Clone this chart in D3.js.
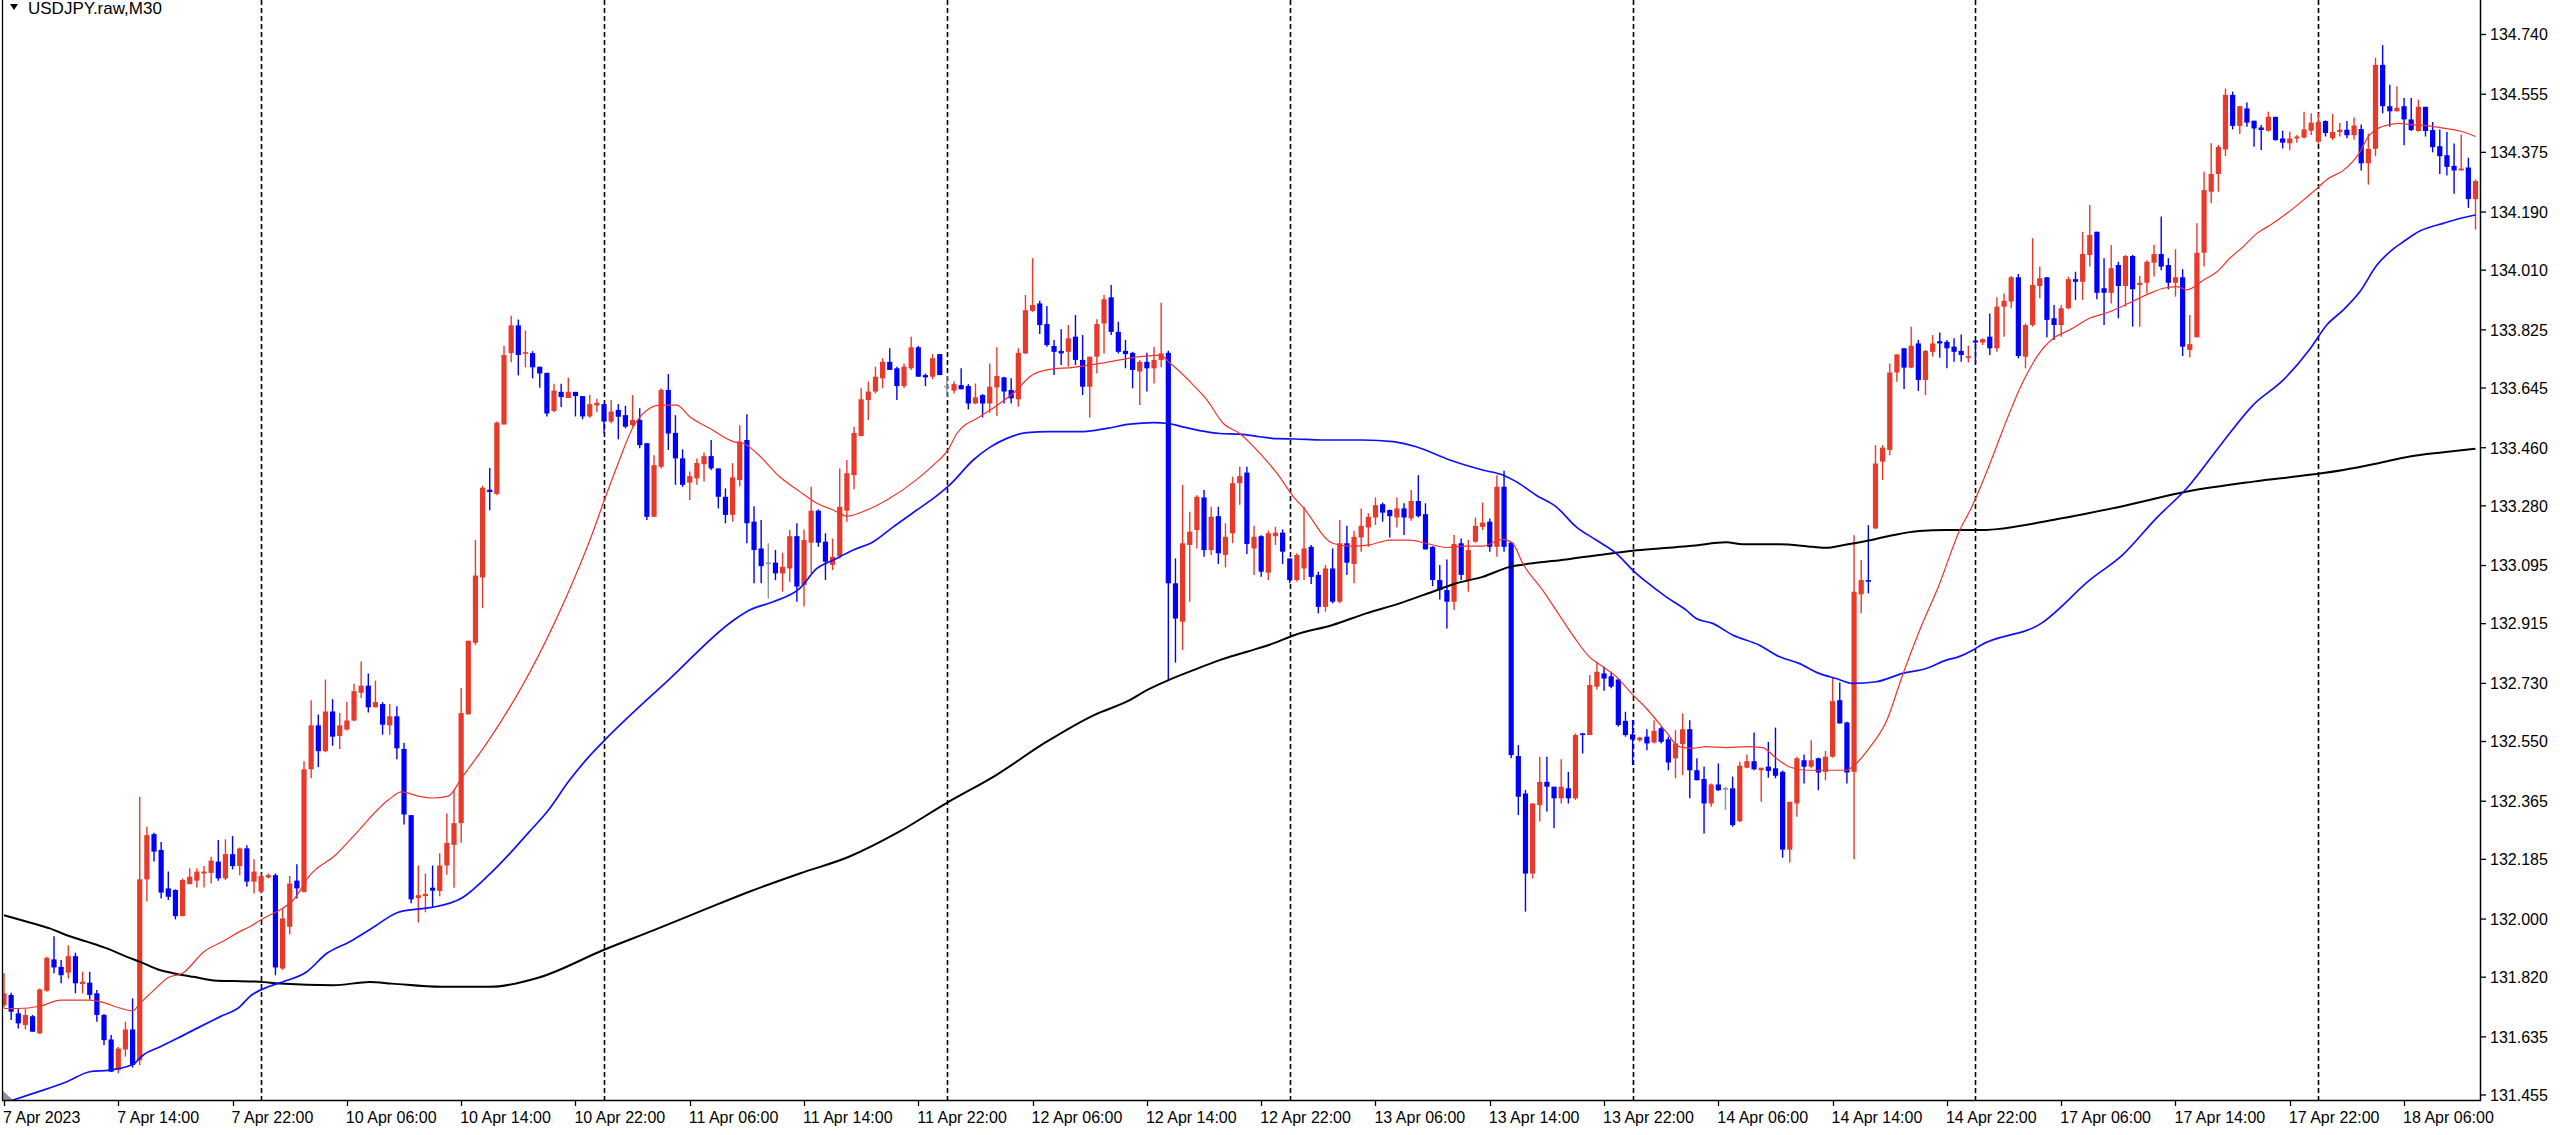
<!DOCTYPE html>
<html><head><meta charset="utf-8">
<script src="https://cdn.jsdelivr.net/npm/d3@7"></script>
<style>
html,body{margin:0;padding:0;background:#fff;overflow:hidden}
svg{display:block}
text{font-family:"Liberation Sans",Arial,sans-serif;font-size:16px;fill:#000}
</style>
</head><body>
<svg id="c" width="2560" height="1135"></svg>
<script>
const chartTitle = "USDJPY.raw,M30";

const openP = [
131.733,131.765,131.708,131.672,131.699,131.646,131.778,131.875,131.852,131.834,
131.885,131.799,131.803,131.770,131.703,131.627,131.532,131.596,131.658,131.563,
132.123,132.263,132.214,132.095,132.090,132.009,132.108,132.119,132.141,132.143,
132.178,132.126,132.201,132.164,132.219,132.116,132.085,132.129,132.136,131.847,
131.976,132.119,132.084,132.464,132.600,132.520,132.643,132.567,132.587,132.615,
132.701,132.723,132.656,132.666,132.600,132.628,132.527,132.322,132.065,132.071,
132.097,132.087,132.166,132.230,132.297,132.634,132.856,133.058,133.330,133.317,
133.532,133.753,133.839,133.751,133.753,133.711,133.692,133.574,133.633,133.614,
133.633,133.620,133.557,133.591,133.595,133.541,133.577,133.561,133.530,133.546,
133.474,133.246,133.401,133.639,133.506,133.427,133.352,133.365,133.409,133.434,
133.396,133.308,133.252,133.360,133.484,133.231,133.148,133.102,133.104,133.071,
133.086,133.186,133.035,133.166,133.265,133.169,133.097,133.124,133.265,133.375,
133.496,133.608,133.634,133.675,133.726,133.706,133.651,133.706,133.771,133.685,
133.680,133.750,133.649,133.637,133.654,133.651,133.597,133.623,133.597,133.647,
133.678,133.639,133.610,133.752,133.884,133.907,133.843,133.775,133.760,133.757,
133.804,133.732,133.649,133.742,133.845,133.926,133.819,133.760,133.754,133.696,
133.726,133.706,133.732,133.754,133.040,132.921,133.159,133.205,133.306,133.143,
133.248,133.128,133.195,133.350,133.383,133.148,133.186,133.073,133.186,133.197,
133.117,133.050,133.086,133.153,133.066,132.967,133.086,132.983,133.164,133.100,
133.182,133.213,133.244,133.285,133.267,133.244,133.272,133.241,133.295,133.254,
133.153,133.050,133.019,132.983,133.164,133.050,133.169,133.215,133.231,133.153,
133.339,133.166,132.505,132.389,132.141,132.353,132.425,132.410,132.374,132.405,
132.374,132.575,132.570,132.720,132.761,132.752,132.742,132.614,132.572,132.554,
132.565,132.547,132.591,132.557,132.498,132.542,132.588,132.461,132.434,132.358,
132.417,132.403,132.405,132.303,132.469,132.489,132.461,132.472,132.467,132.456,
132.215,132.358,132.492,132.472,132.498,132.456,132.503,132.678,132.609,132.456,
133.006,133.050,133.210,133.417,133.453,133.693,133.768,133.708,133.783,133.670,
133.757,133.790,133.788,133.773,133.760,133.739,133.792,133.786,133.804,133.768,
133.897,133.913,133.988,133.742,133.840,133.961,133.988,133.861,133.840,133.892,
133.982,133.974,134.057,134.129,133.954,133.940,134.026,133.961,134.054,133.964,
133.971,134.033,134.060,134.026,133.971,133.988,133.763,133.802,134.064,134.253,
134.308,134.384,134.553,134.457,134.511,134.473,134.452,134.442,134.485,134.418,
134.403,134.418,134.421,134.442,134.408,134.472,134.419,134.438,134.445,134.428,
134.447,134.341,134.386,134.646,134.518,134.502,134.518,134.477,134.441,134.516,
134.444,134.394,134.366,134.333,134.319,134.328,134.230];

const highP = [
131.832,131.772,131.723,131.723,131.703,131.785,131.883,131.947,131.873,131.919,
131.896,131.837,131.837,131.780,131.706,131.641,131.604,131.682,131.754,132.379,
132.286,132.267,132.239,132.147,132.092,132.126,132.157,132.157,132.164,132.193,
132.245,132.247,132.257,132.222,132.229,132.185,132.141,132.141,132.141,132.033,
132.133,132.170,132.489,132.678,132.634,132.742,132.681,132.638,132.672,132.729,
132.798,132.761,132.739,132.672,132.666,132.659,132.546,132.322,132.166,132.141,
132.166,132.204,132.327,132.400,132.716,132.862,133.174,133.342,133.397,133.541,
133.776,133.869,133.857,133.823,133.759,133.711,133.692,133.658,133.658,133.677,
133.633,133.620,133.624,133.612,133.597,133.608,133.595,133.590,133.623,133.582,
133.474,133.437,133.644,133.688,133.561,133.455,133.386,133.427,133.445,133.484,
133.396,133.334,133.412,133.530,133.564,133.279,133.236,133.164,133.143,133.135,
133.205,133.226,133.207,133.339,133.269,133.195,133.179,133.396,133.422,133.525,
133.644,133.665,133.711,133.737,133.768,133.711,133.721,133.804,133.775,133.690,
133.750,133.750,133.682,133.665,133.706,133.657,133.659,133.626,133.721,133.771,
133.680,133.675,133.768,133.933,134.047,133.915,133.899,133.794,133.827,133.840,
133.871,133.809,133.742,133.858,133.933,133.964,133.850,133.794,133.757,133.732,
133.754,133.773,133.909,133.760,133.117,133.345,133.262,133.313,133.329,133.277,
133.277,133.226,133.370,133.401,133.401,133.218,133.189,133.203,133.215,133.207,
133.117,133.133,133.277,133.159,133.076,133.097,133.148,133.236,133.218,133.203,
133.272,133.257,133.306,133.290,133.269,133.306,133.288,133.329,133.375,133.288,
133.155,133.097,133.114,133.190,133.179,133.174,133.244,133.290,133.241,133.375,
133.389,133.169,132.539,132.400,132.358,132.503,132.503,132.410,132.495,132.456,
132.575,132.577,132.756,132.797,132.782,132.766,132.745,132.642,132.616,132.565,
132.588,132.616,132.596,132.565,132.585,132.637,132.616,132.498,132.472,132.420,
132.482,132.410,132.441,132.487,132.510,132.578,132.467,132.549,132.593,132.460,
132.363,132.503,132.510,132.554,132.500,132.521,132.747,132.733,132.611,133.189,
133.112,133.220,133.468,133.468,133.721,133.749,133.768,133.835,133.794,133.763,
133.809,133.817,133.794,133.799,133.811,133.776,133.794,133.799,133.876,133.926,
133.938,133.992,133.998,133.845,134.109,134.021,133.988,133.902,133.902,133.990,
134.005,134.129,134.212,134.129,134.047,134.088,134.036,134.057,134.057,133.992,
134.041,134.088,134.176,134.047,134.075,134.013,133.871,134.155,134.315,134.403,
134.398,134.573,134.563,134.518,134.529,134.473,134.460,134.501,134.485,134.442,
134.439,134.429,134.501,134.496,134.496,134.474,134.494,134.466,134.472,134.483,
134.461,134.433,134.668,134.707,134.584,134.579,134.543,134.543,134.538,134.516,
134.469,134.446,134.438,134.402,134.430,134.358,134.291];

const lowP = [
131.725,131.687,131.661,131.658,131.651,131.644,131.775,131.832,131.801,131.816,
131.770,131.770,131.751,131.682,131.610,131.527,131.522,131.574,131.540,131.548,
132.054,132.178,132.064,132.059,131.999,132.009,132.108,132.098,132.098,132.110,
132.119,132.121,132.154,132.136,132.100,132.079,132.079,132.126,131.826,131.842,
131.953,132.064,132.082,132.436,132.470,132.517,132.537,132.527,132.584,132.613,
132.685,132.640,132.656,132.571,132.571,132.495,132.293,132.049,131.989,132.021,
132.036,132.071,132.137,132.097,132.236,132.634,132.849,132.963,133.266,133.313,
133.532,133.725,133.684,133.709,133.675,133.646,133.557,133.570,133.586,133.614,
133.557,133.548,133.553,133.570,133.504,133.536,133.486,133.520,133.525,133.458,
133.236,133.246,133.396,133.453,133.345,133.339,133.298,133.345,133.355,133.391,
133.272,133.226,133.231,133.341,133.164,133.040,133.040,132.993,133.050,133.014,
133.045,132.983,132.968,133.071,133.153,133.050,133.081,133.117,133.231,133.331,
133.496,133.546,133.628,133.644,133.701,133.608,133.644,133.701,133.680,133.651,
133.672,133.685,133.618,133.628,133.641,133.579,133.595,133.554,133.568,133.558,
133.597,133.597,133.587,133.750,133.881,133.812,133.773,133.685,133.716,133.711,
133.716,133.623,133.554,133.690,133.752,133.809,133.752,133.706,133.644,133.592,
133.634,133.659,133.709,132.740,132.794,132.833,132.983,133.148,133.122,133.128,
133.100,133.089,133.164,133.283,133.131,133.066,133.060,133.050,133.159,133.100,
133.040,133.045,133.050,133.038,132.947,132.952,132.978,132.978,133.066,133.040,
133.138,133.153,133.221,133.231,133.182,133.213,133.190,133.234,133.244,133.145,
133.031,132.990,132.900,132.957,133.050,133.014,133.166,133.205,133.138,133.122,
133.138,132.498,132.322,132.023,132.126,132.302,132.333,132.281,132.358,132.358,
132.369,132.513,132.570,132.711,132.707,132.715,132.596,132.565,132.477,132.549,
132.523,132.544,132.544,132.461,132.436,132.446,132.374,132.430,132.265,132.348,
132.397,132.338,132.286,132.301,132.467,132.461,132.363,132.438,132.436,132.190,
132.175,132.317,132.420,132.467,132.399,132.430,132.500,132.606,132.420,132.185,
132.947,133.009,133.208,133.360,133.437,133.664,133.642,133.706,133.636,133.623,
133.742,133.739,133.706,133.726,133.726,133.724,133.720,133.778,133.747,133.757,
133.804,133.892,133.737,133.706,133.835,133.923,133.802,133.794,133.804,133.889,
133.918,133.918,134.021,133.920,133.840,133.907,133.861,133.897,133.835,133.835,
133.938,133.990,134.010,133.951,133.928,133.744,133.740,133.802,134.021,134.217,
134.253,134.364,134.446,134.432,134.454,134.392,134.382,134.439,134.411,134.387,
134.382,134.405,134.418,134.429,134.402,134.424,134.413,134.424,134.419,134.414,
134.319,134.275,134.363,134.496,134.454,134.502,134.397,134.441,134.439,134.424,
134.375,134.308,134.303,134.247,134.319,134.203,134.136];

const closeP = [
131.770,131.713,131.677,131.703,131.651,131.782,131.880,131.850,131.826,131.885,
131.801,131.806,131.765,131.703,131.625,131.527,131.599,131.658,131.548,132.123,
132.260,132.209,132.082,132.069,132.009,132.121,132.131,132.147,132.147,132.181,
132.126,132.201,132.164,132.219,132.116,132.147,132.133,132.136,131.850,132.002,
132.110,132.095,132.464,132.600,132.520,132.643,132.565,132.600,132.615,132.706,
132.723,132.656,132.672,132.602,132.628,132.529,132.324,132.061,132.074,132.078,
132.088,132.166,132.236,132.297,132.638,132.862,133.064,133.336,133.323,133.538,
133.747,133.839,133.747,133.756,133.709,133.690,133.566,133.637,133.617,133.633,
133.620,133.557,133.595,133.599,133.541,133.572,133.556,133.525,133.546,133.468,
133.246,133.406,133.639,133.504,133.427,133.345,133.372,133.413,133.434,133.396,
133.308,133.252,133.368,133.479,133.226,133.143,133.093,133.102,133.071,133.091,
133.186,133.030,133.174,133.265,133.166,133.107,133.122,133.277,133.381,133.506,
133.610,133.634,133.680,133.726,133.701,133.651,133.711,133.771,133.680,133.678,
133.737,133.685,133.649,133.657,133.641,133.597,133.616,133.597,133.649,133.682,
133.634,133.613,133.754,133.886,133.902,133.840,133.778,133.757,133.752,133.799,
133.732,133.649,133.742,133.843,133.920,133.819,133.757,133.750,133.701,133.726,
133.706,133.732,133.752,133.040,132.931,133.164,133.200,133.308,133.143,133.246,
133.133,133.184,133.350,133.372,133.162,133.184,133.076,133.195,133.197,133.138,
133.050,133.128,133.148,133.060,132.967,133.086,132.983,133.164,133.104,133.184,
133.218,133.246,133.282,133.259,133.248,133.272,133.244,133.295,133.248,133.145,
133.050,133.019,132.983,133.162,133.066,133.143,133.218,133.228,133.153,133.339,
133.153,132.508,132.379,132.141,132.358,132.425,132.410,132.374,132.410,132.374,
132.570,132.570,132.725,132.766,132.745,132.720,132.601,132.570,132.556,132.562,
132.544,132.583,132.549,132.485,132.544,132.588,132.461,132.430,132.358,132.417,
132.399,132.403,132.291,132.475,132.489,132.464,132.469,132.459,132.444,132.215,
132.363,132.498,132.472,132.492,132.454,132.503,132.675,132.606,132.454,133.014,
133.050,133.045,133.411,133.460,133.693,133.749,133.708,133.776,133.670,133.760,
133.783,133.783,133.768,133.757,133.747,133.741,133.786,133.796,133.768,133.897,
133.915,133.988,133.744,133.840,133.964,133.985,133.856,133.840,133.892,133.982,
133.974,134.060,134.119,133.940,133.940,134.016,133.961,134.054,133.951,133.971,
134.036,134.060,134.021,133.971,133.988,133.773,133.781,134.064,134.258,134.308,
134.392,134.553,134.457,134.518,134.467,134.449,134.444,134.485,134.413,134.405,
134.418,134.424,134.446,134.467,134.469,134.435,134.438,134.445,134.428,134.458,
134.341,134.386,134.646,134.518,134.502,134.513,134.477,134.444,134.516,134.441,
134.391,134.363,134.330,134.319,134.325,134.230,134.286];

// moving averages: [bar index, price]
const fastMA = [
[0,131.723],[2,131.723],[5,131.730],[8,131.749],[12,131.749],[14,131.741],[16,131.726],[18,131.716],
[19,131.738],[21,131.780],[23,131.819],[25,131.832],[28,131.899],[31,131.935],[33,131.961],[34.4,131.976],
[36.3,132.002],[38.6,132.028],[40.5,132.059],[42.8,132.135],[46.5,132.200],[49.1,132.261],[53.8,132.369],
[55.7,132.394],[58,132.381],[59.9,132.375],[62.2,132.381],[64.1,132.438],[67.8,132.552],[72.4,132.716],
[77.1,132.919],[79.9,133.058],[82.2,133.184],[84,133.295],[85.8,133.401],[88.1,133.525],[90.4,133.582],
[91.8,133.592],[94.2,133.592],[96,133.556],[98.8,133.520],[102.1,133.479],[103.5,133.474],[105.4,133.443],
[108.6,133.370],[111.4,133.324],[113.8,133.288],[116.1,133.267],[118,133.248],[120.8,133.267],[123.6,133.298],
[127.8,133.362],[130.1,133.406],[132.2,133.455],[133.4,133.504],[136.6,133.556],[139.4,133.597],[141.8,133.639],
[143.6,133.680],[146,133.701],[149.7,133.709],[153.4,133.721],[156.2,133.732],[159,133.742],[161.8,133.747],
[163.2,133.723],[166.5,133.654],[168.4,133.608],[170.7,133.535],[173,133.504],[175.8,133.443],[178.2,133.381],
[180.7,133.303],[181.8,133.277],[186,133.164],[188.4,133.155],[191.2,133.159],[194,133.174],[196.8,133.174],
[199.1,133.164],[201.9,133.151],[204.2,133.155],[207,133.155],[209.8,133.176],[211.2,133.164],[212.6,133.102],
[215.4,133.019],[218.2,132.926],[220.1,132.864],[221.9,132.813],[223.8,132.782],[225.7,132.751],[227.8,132.700],
[229.9,132.653],[232.7,132.580],[234.5,132.534],[236.4,132.529],[238.3,132.534],[241.1,132.531],[243.9,132.534],
[246.2,132.531],[248.1,132.498],[249.9,132.472],[252.3,132.461],[255.1,132.461],[257.9,132.461],[259.3,132.482],
[261.1,132.529],[263.5,132.611],[265.8,132.756],[268.1,132.890],[270.9,133.035],[273.7,133.200],[275.6,133.282],
[276.8,133.344],[282.9,133.675],[284.6,133.742],[286.9,133.799],[289.2,133.825],[292,133.861],[294.8,133.881],
[297.6,133.909],[300.4,133.938],[302.3,133.954],[304.2,133.959],[305.6,133.949],[307.9,133.979],[309.8,134.005],
[311.6,134.047],[313.5,134.083],[315.4,134.124],[317.3,134.150],[319.6,134.186],[321.9,134.227],[323.8,134.263],
[325.2,134.291],[327.5,134.319],[329.8,134.375],[331,134.424],[332.2,134.447],[334,134.461],[335.4,134.465],
[336.8,134.461],[339.2,134.458],[341.5,134.450],[343.8,134.441],[346,134.424]];

const midMA = [
[0,131.430],[4.1,131.460],[8.8,131.496],[12,131.527],[14.8,131.532],[18.1,131.551],[19.5,131.579],[21.8,131.604],
[24.2,131.630],[27.4,131.666],[30.2,131.697],[33,131.728],[34.4,131.760],[37.2,131.792],[39.1,131.806],[42.4,131.837],
[45.2,131.894],[48.4,131.930],[51.4,131.970],[55.2,132.021],[57.5,132.030],[59.9,132.036],[64.1,132.065],
[67.8,132.135],[70.6,132.198],[73.4,132.267],[76.2,132.337],[79,132.425],[81.8,132.501],[84,132.552],
[93.2,132.744],[102.3,132.928],[104.4,132.957],[107.7,132.983],[111.4,133.024],[113.8,133.086],[116.1,133.112],
[118.9,133.143],[121.7,133.169],[124.5,133.215],[127.8,133.267],[130.1,133.303],[132.4,133.345],[135.7,133.422],
[138,133.461],[140.4,133.489],[143.2,133.507],[146.4,133.510],[151.1,133.510],[154.4,133.520],[157.6,133.533],
[160.9,133.538],[163,133.535],[164.6,133.527],[167.4,133.513],[170.2,133.504],[173,133.502],[175.8,133.494],
[178.2,133.488],[180.7,133.487],[184.6,133.484],[190.2,133.484],[194.5,133.479],[197.7,133.463],[202.4,133.422],
[207,133.391],[209.9,133.375],[211.7,133.355],[214.5,133.313],[217.3,133.277],[220.1,133.215],[222.9,133.174],
[225.7,133.133],[228.3,133.075],[229.9,133.045],[232.7,132.998],[235.5,132.957],[236.9,132.931],[239.2,132.916],
[242,132.880],[245.7,132.849],[248.5,132.813],[251.3,132.792],[254.1,132.761],[256.5,132.745],[258.8,132.730],
[262.1,132.735],[265.8,132.761],[269.1,132.776],[271.9,132.802],[273.7,132.813],[275.6,132.833],[276.8,132.849],
[285.2,132.916],[292.1,133.052],[296.6,133.128],[301.2,133.239],[305.8,133.340],[310.4,133.471],[314.9,133.593],
[319.1,133.670],[322.8,133.765],[325.2,133.841],[327.5,133.887],[329.8,133.943],[332.2,134.026],[334.5,134.076],
[335.9,134.098],[338.2,134.131],[341.5,134.155],[343.8,134.170],[346,134.181]];

const slowMA = [
[0,132.012],[4.1,131.986],[6.4,131.971],[8.8,131.950],[11.6,131.930],[14.4,131.909],[17.2,131.883],[19,131.868],
[21.8,131.842],[24.2,131.830],[26.5,131.821],[29.8,131.809],[32.1,131.808],[35.8,131.806],[38.6,131.800],
[46.1,131.795],[51.2,131.805],[54.3,131.800],[61.2,131.790],[68,131.790],[74.9,131.819],[84,131.905],
[90.9,131.965],[97.7,132.026],[104.6,132.087],[111.5,132.142],[118.3,132.193],[125.2,132.269],[132,132.360],
[138.9,132.446],[145.8,132.547],[152.6,132.632],[157.6,132.678],[160,132.709],[162.8,132.738],[166.5,132.771],
[170.2,132.802],[174,132.828],[177.7,132.854],[180.7,132.880],[186,132.911],[190.7,132.947],[195.4,132.978],
[200,133.014],[203.3,133.040],[207,133.060],[210.8,133.091],[214,133.102],[218.7,133.114],[223.4,133.128],
[228,133.141],[231.7,133.148],[236.4,133.156],[241.1,133.167],[243.4,133.161],[248.5,133.161],[253.2,133.153],
[255.1,133.150],[257.4,133.158],[260.7,133.171],[264.4,133.189],[268.1,133.202],[271.9,133.205],[276.8,133.205],
[287.5,133.239],[296.6,133.279],[305.8,133.325],[314.9,133.355],[322.8,133.376],[327.5,133.391],[332.2,133.411],
[336.8,133.433],[341.5,133.446],[346,133.457]];

const priceTicks = [134.740,134.555,134.375,134.190,134.010,133.825,133.645,133.460,133.280,133.095,
  132.915,132.730,132.550,132.365,132.185,132.000,131.820,131.635,131.455];

const timeTickBars = [0,16,32,48,64,80,96,112,128,144,160,176,192,208,224,240,256,272,288,304,320,336];
const timeTickLabels = ["7 Apr 2023","7 Apr 14:00","7 Apr 22:00","10 Apr 06:00","10 Apr 14:00","10 Apr 22:00",
  "11 Apr 06:00","11 Apr 14:00","11 Apr 22:00","12 Apr 06:00","12 Apr 14:00","12 Apr 22:00",
  "13 Apr 06:00","13 Apr 14:00","13 Apr 22:00","14 Apr 06:00","14 Apr 14:00","14 Apr 22:00",
  "17 Apr 06:00","17 Apr 14:00","17 Apr 22:00","18 Apr 06:00"];

const daySeparatorBars = [36,84,132,180,228,276,324];

// ---------- drawing ----------
const W = 2560, H = 1135;
const plotL = 2, plotR = 2480, plotB = 1100;
const upColor = "#e8392b", downColor = "#0000ff", dojiColor = "#8995a3";

const x = d3.scaleLinear().domain([0, 346]).range([4, 2475.5]);
const y = d3.scaleLinear().domain([131.455, 134.740]).range([1095, 34.5]);

const svg = d3.select("#c");
svg.append("rect").attr("width", W).attr("height", H).attr("fill", "#fff");

svg.append("clipPath").attr("id", "pc").append("rect")
  .attr("x", plotL).attr("y", 0).attr("width", plotR - plotL).attr("height", plotB);
const g = svg.append("g").attr("clip-path", "url(#pc)");

// day separators
g.selectAll("line.sep").data(daySeparatorBars).join("line")
  .attr("class", "sep")
  .attr("x1", d => Math.round(x(d)) + 0.5).attr("x2", d => Math.round(x(d)) + 0.5)
  .attr("y1", 0).attr("y2", plotB)
  .attr("stroke", "#000").attr("stroke-width", 1.6).attr("stroke-dasharray", "5,3");

// candles
const bars = openP.map((o, i) => ({ i, o, h: highP[i], l: lowP[i], c: closeP[i] }));
const col = d => d.c > d.o ? upColor : (d.c < d.o ? downColor : dojiColor);

g.selectAll("line.wick").data(bars).join("line")
  .attr("class", "wick")
  .attr("x1", d => x(d.i)).attr("x2", d => x(d.i))
  .attr("y1", d => y(d.h)).attr("y2", d => y(d.l))
  .attr("stroke", col).attr("stroke-width", 1.4);

g.selectAll("rect.body").data(bars).join("rect")
  .attr("class", "body")
  .attr("x", d => x(d.i) - 2.6).attr("width", 5.2)
  .attr("y", d => Math.min(y(d.o), y(d.c)) - (Math.abs(y(d.o) - y(d.c)) < 1.6 ? 0.8 : 0))
  .attr("height", d => Math.max(1.6, Math.abs(y(d.o) - y(d.c))))
  .attr("fill", col);

// moving averages
const maLine = d3.line().x(d => x(d[0])).y(d => y(d[1])).curve(d3.curveMonotoneX);
g.append("path").datum(slowMA).attr("d", maLine).attr("fill", "none").attr("stroke", "#000").attr("stroke-width", 2);
g.append("path").datum(midMA).attr("d", maLine).attr("fill", "none").attr("stroke", "#1010ff").attr("stroke-width", 1.7);
g.append("path").datum(fastMA).attr("d", maLine).attr("fill", "none").attr("stroke", "#f2322a").attr("stroke-width", 1.2);

// small grey scroll marker bottom-left
svg.append("path").attr("d", "M3,1091 L3,1100 L13,1100 Z").attr("fill", "#8c96a0");

// frame
svg.append("line").attr("x1", plotL + 0.5).attr("x2", plotL + 0.5).attr("y1", 0).attr("y2", plotB).attr("stroke", "#000").attr("stroke-width", 1.3);
svg.append("line").attr("x1", plotL).attr("x2", plotR + 1).attr("y1", plotB + 0.5).attr("y2", plotB + 0.5).attr("stroke", "#000").attr("stroke-width", 1.5);
svg.append("line").attr("x1", plotR + 0.5).attr("x2", plotR + 0.5).attr("y1", 0).attr("y2", plotB + 1).attr("stroke", "#000").attr("stroke-width", 1.5);

// price axis
const pa = svg.append("g");
pa.selectAll("line").data(priceTicks).join("line")
  .attr("x1", plotR).attr("x2", plotR + 6)
  .attr("y1", d => y(d)).attr("y2", d => y(d))
  .attr("stroke", "#000").attr("stroke-width", 1.3);
pa.selectAll("text").data(priceTicks).join("text")
  .attr("x", plotR + 10).attr("y", d => y(d) + 5.8)
  .text(d => d.toFixed(3));

// time axis
const ta = svg.append("g");
ta.selectAll("line").data(timeTickBars).join("line")
  .attr("x1", d => Math.round(x(d)) + 0.5).attr("x2", d => Math.round(x(d)) + 0.5)
  .attr("y1", plotB).attr("y2", plotB + 6)
  .attr("stroke", "#000").attr("stroke-width", 1.3);
ta.selectAll("text").data(timeTickBars).join("text")
  .attr("x", d => x(d) - 1).attr("y", 1123)
  .text((d, k) => timeTickLabels[k]);

// title
svg.append("path").attr("d", "M10,4 L18,4 L14,10 Z").attr("fill", "#000");
svg.append("text").attr("x", 28).attr("y", 14).style("font-size", "17px").text(chartTitle);
</script>
</body></html>
